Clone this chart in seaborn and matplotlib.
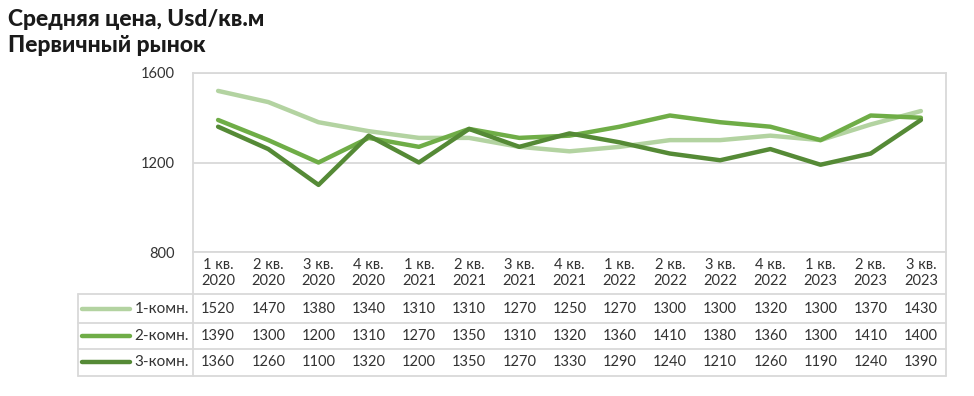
# %% Average price chart with data table
import pandas as pd
import numpy as np
import matplotlib
matplotlib.use('Agg')
import matplotlib.pyplot as plt
import seaborn as sns
from matplotlib.lines import Line2D

# %% Data
quarters = ['1 кв.\n2020', '2 кв.\n2020', '3 кв.\n2020', '4 кв.\n2020',
            '1 кв.\n2021', '2 кв.\n2021', '3 кв.\n2021', '4 кв.\n2021',
            '1 кв.\n2022', '2 кв.\n2022', '3 кв.\n2022', '4 кв.\n2022',
            '1 кв.\n2023', '2 кв.\n2023', '3 кв.\n2023']
series_names = ['1-комн.', '2-комн.', '3-комн.']
room1 = [1520, 1470, 1380, 1340, 1310, 1310, 1270, 1250, 1270, 1300, 1300, 1320, 1300, 1370, 1430]
room2 = [1390, 1300, 1200, 1310, 1270, 1350, 1310, 1320, 1360, 1410, 1380, 1360, 1300, 1410, 1400]
room3 = [1360, 1260, 1100, 1320, 1200, 1350, 1270, 1330, 1290, 1240, 1210, 1260, 1190, 1240, 1390]
yticks = [800, 1200, 1600]

colors = ['#b3d3a1', '#6fad47', '#558a36']
grid_color = '#d9d9d9'

values = [room1, room2, room3]
df = pd.DataFrame({
    'idx': np.tile(np.arange(len(quarters)), len(series_names)),
    'value': np.concatenate(values),
    'series': np.repeat(series_names, len(quarters)),
})

# %% Figure
sns.set_style('white')
plt.rcParams['font.family'] = ['Lato', 'DejaVu Sans']

W, H = 974, 396
fig = plt.figure(figsize=(W / 100, H / 100), dpi=100)

def fx(px):
    return px / W

def fy(py):
    return 1 - py / H

left, right, top, bottom = 193, 946, 73, 252
ax = fig.add_axes([fx(left), fy(bottom), fx(right) - fx(left), fy(top) - fy(bottom)])

sns.lineplot(data=df, x='idx', y='value', hue='series', palette=colors,
             linewidth=3.2, sort=False, legend=False, ax=ax)

ax.set_xlim(-0.5, len(quarters) - 0.5)
ax.set_ylim(800, 1600)
ax.set_yticks(yticks)
ax.set_yticklabels([str(v) for v in yticks], fontsize=10.5, color='#333333')
ax.tick_params(axis='y', length=0, pad=13)
ax.set_xticks([])
ax.set_xlabel('')
ax.set_ylabel('')
ax.grid(axis='y', color=grid_color, linewidth=1.3)
ax.set_axisbelow(True)
for s in ax.spines.values():
    s.set_color(grid_color)
    s.set_linewidth(1.3)

# %% Title
fig.text(fx(8), fy(20), 'Средняя цена, Usd/кв.м', fontsize=16.5, fontweight='black',
         va='center', ha='left', color='#1a1a1a')
fig.text(fx(8), fy(46), 'Первичный рынок', fontsize=16.5, fontweight='black',
         va='center', ha='left', color='#1a1a1a')

# %% Data table below the plot
tbl_left = 78
row_lines = [294, 323, 349, 376]
row_centers = [309, 336, 362]

def hline(y, x0, x1):
    fig.add_artist(Line2D([fx(x0), fx(x1)], [fy(y), fy(y)], color=grid_color, linewidth=1.3))

def vline(x, y0, y1):
    fig.add_artist(Line2D([fx(x), fx(x)], [fy(y0), fy(y1)], color=grid_color, linewidth=1.3))

for y in row_lines:
    hline(y, tbl_left, right)
vline(tbl_left, row_lines[0], row_lines[-1])
vline(left, bottom, row_lines[-1])
vline(right, bottom, row_lines[-1])

trans = matplotlib.transforms.blended_transform_factory(ax.transData, fig.transFigure)
for i, q in enumerate(quarters):
    fig.text(i, fy(273), q, transform=trans, ha='center', va='center',
             fontsize=10.5, color='#333333', linespacing=1.25)

for r, name in enumerate(series_names):
    yc = row_centers[r]
    fig.add_artist(Line2D([fx(82), fx(130)], [fy(yc), fy(yc)], color=colors[r],
                          linewidth=3.2, solid_capstyle='round'))
    fig.text(fx(189), fy(yc), name, ha='right', va='center', fontsize=11, color='#333333')
    for i, v in enumerate(values[r]):
        fig.text(i, fy(yc), str(v), transform=trans, ha='center', va='center',
                 fontsize=10.5, color='#333333')

fig.savefig('out.png', dpi=100)
